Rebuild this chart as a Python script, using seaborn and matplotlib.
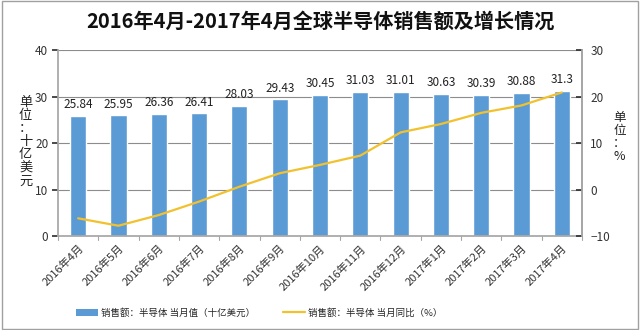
import matplotlib
matplotlib.use("Agg")
import matplotlib.pyplot as plt
import seaborn as sns
import pandas as pd
from matplotlib.patches import Patch, Rectangle
from matplotlib.lines import Line2D

months = ["2016年4月", "2016年5月", "2016年6月", "2016年7月", "2016年8月", "2016年9月",
          "2016年10月", "2016年11月", "2016年12月", "2017年1月", "2017年2月", "2017年3月", "2017年4月"]
sales = [25.84, 25.95, 26.36, 26.41, 28.03, 29.43, 30.45, 31.03, 31.01, 30.63, 30.39, 30.88, 31.3]
yoy = [-6.2, -7.8, -5.5, -2.6, 0.6, 3.5, 5.3, 7.3, 12.3, 14.1, 16.5, 18.1, 20.9]

title = "2016年4月-2017年4月全球半导体销售额及增长情况"
bar_label = "销售额：半导体 当月值（十亿美元）"
line_label = "销售额：半导体 当月同比（%）"

sns.set_theme(style="white")
plt.rcParams['font.family'] = ['Noto Sans CJK SC', 'DejaVu Sans']

df = pd.DataFrame({"month": months, "sales": sales, "yoy": yoy})

fig = plt.figure(figsize=(6.4, 3.3), dpi=100)
fig.patches.append(Rectangle((0.003, 0.003), 0.994, 0.994, transform=fig.transFigure,
                             fill=False, edgecolor="#a0a0a0", linewidth=1.0))
ax = fig.add_axes([0.0906, 0.285, 0.8188, 0.563])

bar_color = "#5B9BD5"
line_color = "#F2C12E"
grid_color = "#8c8c8c"

sns.barplot(data=df, x="month", y="sales", color=bar_color, width=0.4, saturation=1, ax=ax, zorder=2)
ax.set_ylim(0, 40)
ax.set_yticks([0, 10, 20, 30, 40])
ax.set_xlim(-0.5, len(months) - 0.5)
for y in [10, 20, 30, 40]:
    ax.axhline(y, color=grid_color, linewidth=0.8, zorder=0)
ax.set_xlabel("")
ax.set_ylabel("")
for i, v in enumerate(sales):
    ax.text(i, v + 1.0, f"{v:g}", ha="center", va="bottom", fontsize=8.5, color="#222222")

ax.spines["top"].set_visible(False)
ax.spines["left"].set_color("#a6a6a6")
ax.spines["bottom"].set_color("#a6a6a6")
ax.spines["right"].set_color("#a6a6a6")
ax.tick_params(axis="y", labelsize=8.5, colors="#333333", length=4, left=True, direction="out", pad=3)
ax.set_xticks(range(len(months)))
ax.set_xticklabels(months, rotation=45, ha="right", rotation_mode="anchor", fontsize=8, color="#333333")
ax.tick_params(axis="x", length=0, pad=5)
for k in range(len(months) + 1):
    ax.plot([k - 0.5, k - 0.5], [0, -0.9], color="#a6a6a6", linewidth=0.8, clip_on=False)

ax2 = ax.twinx()
sns.lineplot(x=list(range(len(months))), y=yoy, color=line_color, linewidth=1.6, ax=ax2, zorder=3)
ax2.set_ylim(-10, 30)
ax2.set_yticks([-10, 0, 10, 20, 30])
ax2.set_xlim(-0.5, len(months) - 0.5)
ax2.spines["top"].set_visible(False)
ax2.spines["left"].set_visible(False)
ax2.spines["bottom"].set_visible(False)
ax2.spines["right"].set_color("#a6a6a6")
ax2.tick_params(axis="y", labelsize=8.5, colors="#333333", length=4, right=True, direction="in", pad=6)

fig.text(0.5, 0.935, title, ha="center", va="center", fontsize=14.5, fontweight="bold", color="#111111")
fig.text(0.04, 0.57, "单\n位\n：\n十\n亿\n美\n元", ha="center", va="center", fontsize=9.5,
         color="#222222", linespacing=1.0)
fig.text(0.968, 0.585, "单\n位\n：\n%", ha="center", va="center", fontsize=9,
         color="#222222", linespacing=1.0)

handles = [Patch(facecolor=bar_color, edgecolor="none"),
           Line2D([0], [0], color=line_color, linewidth=1.6)]
fig.legend(handles, [bar_label, line_label], loc="center", bbox_to_anchor=(0.405, 0.052), ncol=2,
           frameon=False, fontsize=6.8, handlelength=2.3, handleheight=0.9, columnspacing=3.0,
           handletextpad=0.3)

fig.savefig("out.png", dpi=100)
